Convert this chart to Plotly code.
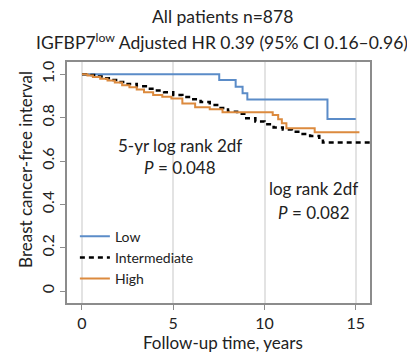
import plotly.graph_objects as go

# ---- data ----
low_t = [0, 7.52, 8.42, 8.8, 9.06, 13.45, 15.0]
low_s = [1.0, 0.974, 0.943, 0.913, 0.884, 0.794, 0.794]

int_t = [0, 0.4, 0.8, 1.2, 1.6, 2.0, 2.5, 3.0, 3.5, 4.0, 4.5, 5.0, 5.5, 6.0, 6.5,
         7.0, 7.5, 8.0, 8.5, 9.0, 9.5, 10.0, 10.5, 11.0, 11.5, 12.0, 12.5, 13.0, 13.2, 16.0]
int_s = [1.0, 0.997, 0.99, 0.982, 0.974, 0.965, 0.955, 0.945, 0.934, 0.925, 0.917,
         0.905, 0.895, 0.885, 0.872, 0.859, 0.845, 0.828, 0.818, 0.797, 0.783, 0.77,
         0.755, 0.745, 0.735, 0.725, 0.716, 0.7, 0.685, 0.685]

high_t = [0, 0.3, 0.6, 1.0, 1.4, 1.8, 2.2, 2.6, 3.0, 3.4, 3.9, 4.4, 4.9, 5.5, 6.2,
          7.0, 7.7, 10.45, 10.75, 10.95, 11.2, 12.75, 15.2]
high_s = [1.0, 0.995, 0.988, 0.98, 0.972, 0.962, 0.95, 0.94, 0.93, 0.918, 0.905,
          0.897, 0.889, 0.866, 0.848, 0.839, 0.825, 0.812, 0.793, 0.774, 0.751, 0.733, 0.733]

x_ticks = [0, 5, 10, 15]
y_ticks = [0, 0.2, 0.4, 0.6, 0.8, 1.0]
y_tick_labels = ["0", "0.2", "0.4", "0.6", "0.8", "1.0"]

FONT = "Lato"
BLUE = "#5B8CC8"
ORANGE = "#DC8A3E"

fig = go.Figure()
fig.add_trace(go.Scatter(x=low_t, y=low_s, mode="lines", line_shape="hv",
                         line=dict(color=BLUE, width=2), name="Low"))
fig.add_trace(go.Scatter(x=int_t, y=int_s, mode="lines", line_shape="hv",
                         line=dict(color="black", width=2.5, dash="5px,4px"), name="Intermediate"))
fig.add_trace(go.Scatter(x=high_t, y=high_s, mode="lines", line_shape="hv",
                         line=dict(color=ORANGE, width=2), name="High"))

axis_common = dict(showline=True, linecolor="#8C8C8C", linewidth=1.5, mirror=True,
                   ticks="outside", ticklen=5, tickcolor="#8C8C8C", zeroline=False,
                   tickfont=dict(family=FONT, size=16, color="#222"))

fig.update_xaxes(range=[-0.82, 15.78], tickvals=x_ticks, showgrid=True,
                 gridcolor="#E3E3E3", gridwidth=2, **axis_common)
fig.update_yaxes(range=[-0.055, 1.057], tickvals=y_ticks, ticktext=y_tick_labels,
                 tickangle=-90, showgrid=False, **axis_common)

ann_font = dict(family=FONT, size=17, color="#222")
title_font = dict(family=FONT, size=17.5, color="#222")


def ann(text, x, y, xref="x", yref="y", font=ann_font, **kw):
    return dict(text=text, x=x, y=y, xref=xref, yref=yref, showarrow=False,
                font=font, xanchor="center", yanchor="middle", **kw)


annotations = [
    ann("All patients n=878", 0.512, 1.19, "paper", "paper", title_font),
    ann("IGFBP7<sup>low</sup> Adjusted HR 0.39 (95% CI 0.16–0.96)", 0.512, 1.087,
        "paper", "paper", title_font),
    ann("5-yr log rank 2df", 5.37, 0.674),
    ann("<i>P</i> = 0.048", 5.37, 0.568),
    ann("log rank 2df", 12.71, 0.475),
    ann("<i>P</i> = 0.082", 12.71, 0.362),
    ann("Breast cancer-free interval", -0.139, 0.556, "paper", "paper", textangle=-90),
    ann("Follow-up time, years", 0.515, -0.162, "paper", "paper"),
]

fig.update_layout(
    width=407, height=354,
    margin=dict(l=67, r=37, t=62, b=51),
    paper_bgcolor="white", plot_bgcolor="white",
    font=dict(family=FONT, color="#222"),
    annotations=annotations,
    showlegend=True,
    legend=dict(x=0.026, y=0.342, xanchor="left", yanchor="top",
                bgcolor="rgba(0,0,0,0)", font=dict(family=FONT, size=14, color="#222"),
                tracegroupgap=0),
)

fig.write_html("out.html", config={"displayModeBar": False},
               post_script="document.body.style.margin='0';")
